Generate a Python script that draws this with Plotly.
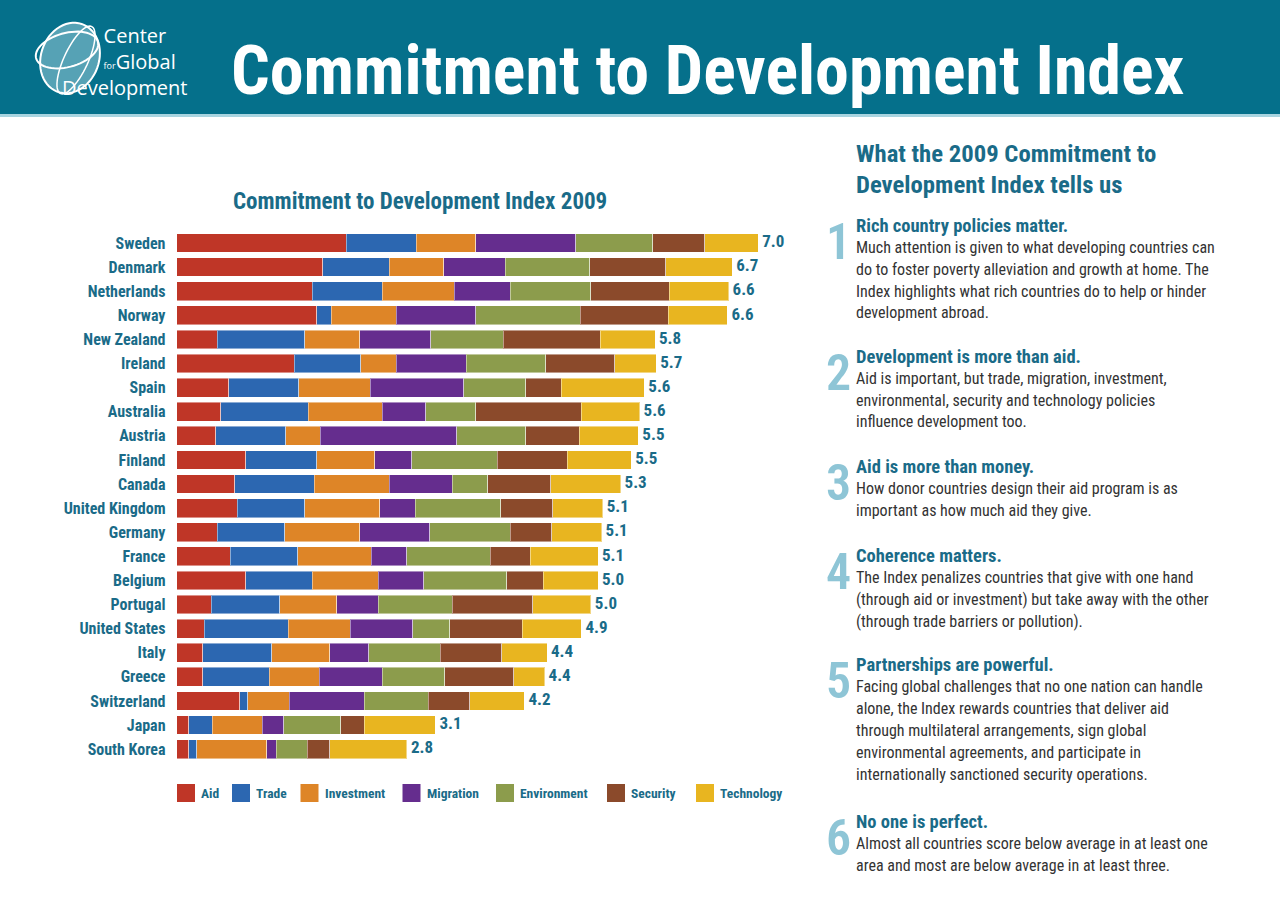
import numpy as np
import plotly.graph_objects as go

countries = ["Sweden", "Denmark", "Netherlands", "Norway", "New Zealand", "Ireland", "Spain",
             "Australia", "Austria", "Finland", "Canada", "United Kingdom", "Germany", "France",
             "Belgium", "Portugal", "United States", "Italy", "Greece", "Switzerland", "Japan",
             "South Korea"]

aid         = [14.3, 12.3, 11.4, 11.8, 3.4, 9.9, 4.4, 3.7, 3.3, 5.8, 4.9, 5.1, 3.4, 4.5, 5.8, 2.9, 2.3, 2.2, 2.2, 5.3, 1.0, 1.0]
trade       = [5.9, 5.6, 5.9, 1.2, 7.4, 5.6, 5.9, 7.4, 5.9, 6.0, 6.7, 5.7, 5.7, 5.7, 5.6, 5.8, 7.1, 5.8, 5.6, 0.7, 2.0, 0.7]
investment  = [5.0, 4.6, 6.1, 5.5, 4.6, 3.0, 6.0, 6.2, 2.9, 4.9, 6.3, 6.3, 6.3, 6.2, 5.6, 4.8, 5.2, 4.9, 4.2, 3.5, 4.2, 5.9]
migration   = [8.4, 5.2, 4.7, 6.7, 6.0, 5.9, 7.9, 3.7, 11.5, 3.1, 5.3, 3.0, 5.9, 3.0, 3.8, 3.5, 5.3, 3.3, 5.3, 6.3, 1.8, 0.8]
environment = [6.5, 7.1, 6.8, 8.8, 6.1, 6.7, 5.2, 4.2, 5.8, 7.2, 3.0, 7.2, 6.8, 7.0, 7.0, 6.2, 3.1, 6.0, 5.3, 5.4, 4.8, 2.6]
security    = [4.4, 6.4, 6.6, 7.4, 8.2, 5.8, 3.0, 8.9, 4.5, 5.9, 5.3, 4.4, 3.5, 3.4, 3.1, 6.8, 6.1, 5.2, 5.8, 3.5, 2.0, 1.9]
technology  = [4.5, 5.6, 5.0, 5.0, 4.6, 3.5, 7.0, 4.9, 5.0, 5.4, 5.9, 4.2, 4.2, 5.7, 4.6, 4.9, 5.0, 3.8, 2.6, 4.6, 6.0, 6.5]
totals      = [7.0, 6.7, 6.6, 6.6, 5.8, 5.7, 5.6, 5.6, 5.5, 5.5, 5.3, 5.1, 5.1, 5.1, 5.0, 5.0, 4.9, 4.4, 4.4, 4.2, 3.1, 2.8]

components = ["Aid", "Trade", "Investment", "Migration", "Environment", "Security", "Technology"]
colors = ["#bf3627", "#2c67b1", "#de8527", "#652d8e", "#8c9c4c", "#8b4a2b", "#e8b520"]
series = [aid, trade, investment, migration, environment, security, technology]

FONT = "Roboto Condensed, Open Sans Condensed, sans-serif"
TEAL = "#1a6b88"
W, H = 1280, 902

def px(x):
    return x / W

def py(y):
    return 1 - y / H

fig = go.Figure()
for name, vals, col in zip(components, series, colors):
    fig.add_trace(go.Bar(y=countries, x=vals, orientation="h", name=name,
                         marker=dict(color=col, line=dict(width=1, color="rgba(255,255,255,0.45)")),
                         showlegend=False, hoverinfo="skip"))

sums = [sum(v) for v in zip(*series)]
fig.add_trace(go.Scatter(y=countries, x=sums, mode="text", text=[f" {t:.1f}" for t in totals],
                         textposition="middle right",
                         textfont=dict(family=FONT, size=17, color=TEAL, weight=700),
                         showlegend=False, hoverinfo="skip"))

x0_px, x1_px = 176.7, 800
unit_px = 11.87
fig.update_xaxes(domain=[px(x0_px), px(x1_px)], range=[0, (x1_px - x0_px) / unit_px], visible=False)
n = len(countries)
fig.update_yaxes(domain=[py(761.15), py(230.95)], range=[n - 0.5, -0.5], type="category",
                 tickfont=dict(family=FONT, size=16, color=TEAL, weight=700),
                 ticks="outside", ticklen=7, tickcolor="rgba(0,0,0,0)", showgrid=False,
                 zeroline=False, showline=False)

shapes = []
annotations = []

# header band
shapes.append(dict(type="rect", xref="paper", yref="paper", x0=0, x1=1, y0=py(114), y1=1,
                   fillcolor="#05708b", line=dict(width=0), layer="below"))
shapes.append(dict(type="rect", xref="paper", yref="paper", x0=0, x1=1, y0=py(117), y1=py(114),
                   fillcolor="#a8d4e0", line=dict(width=0), layer="below"))

# logo globe
def ellipse_path(cx, cy, rx, ry, rot_deg, npts=60):
    t = np.linspace(0, 2 * np.pi, npts)
    r = np.deg2rad(rot_deg)
    xs = cx + rx * np.cos(t) * np.cos(r) - ry * np.sin(t) * np.sin(r)
    ys = cy + rx * np.cos(t) * np.sin(r) + ry * np.sin(t) * np.cos(r)
    pts = [f"{px(a):.5f},{py(b):.5f}" for a, b in zip(xs, ys)]
    return "M" + " L".join(pts) + " Z"

shapes.append(dict(type="path", xref="paper", yref="paper", path=ellipse_path(70, 58, 29, 36, 20),
                   fillcolor="rgba(168,212,224,0.5)", line=dict(color="white", width=2)))
shapes.append(dict(type="path", xref="paper", yref="paper", path=ellipse_path(67, 50, 32, 17, -15),
                   fillcolor="rgba(0,0,0,0)", line=dict(color="white", width=2)))
shapes.append(dict(type="path", xref="paper", yref="paper", path=ellipse_path(76, 60, 12, 37, 25),
                   fillcolor="rgba(0,0,0,0)", line=dict(color="white", width=1.5)))

LOGO = "Open Sans, Lato, sans-serif"
nb = "&nbsp;"
logo_text = (nb * 8 + "Center<br>" + nb * 8 + "<span style='font-size:9px'>for</span>Global<br>"
             + "Development")
annotations.append(dict(text=logo_text, x=px(60), y=py(62), xref="paper", yref="paper",
                        xanchor="left", yanchor="middle", align="left", showarrow=False,
                        font=dict(family=LOGO, size=20, color="white")))

annotations.append(dict(text="Commitment to Development Index", x=px(229), y=py(71),
                        xref="paper", yref="paper", xanchor="left", yanchor="middle",
                        showarrow=False, font=dict(family=FONT, size=68, color="white", weight=700)))

# chart title
annotations.append(dict(text="Commitment to Development Index 2009", x=px(420), y=py(201),
                        xref="paper", yref="paper", xanchor="center", yanchor="middle",
                        showarrow=False, font=dict(family=FONT, size=23, color=TEAL, weight=700)))

# legend
leg_sq = [177, 232, 300.5, 402.5, 496, 607, 696]
for name, col, sx in zip(components, colors, leg_sq):
    shapes.append(dict(type="rect", xref="paper", yref="paper", x0=px(sx), x1=px(sx + 18),
                       y0=py(802), y1=py(784), fillcolor=col, line=dict(width=0)))
    annotations.append(dict(text=name, x=px(sx + 22), y=py(793), xref="paper", yref="paper",
                            xanchor="left", yanchor="middle", showarrow=False,
                            font=dict(family=FONT, size=13.5, color=TEAL, weight=700)))

# right panel
annotations.append(dict(text="What the 2009 Commitment to", x=px(854), y=py(153), xref="paper",
                        yref="paper", xanchor="left", yanchor="middle", showarrow=False,
                        font=dict(family=FONT, size=24.7, color=TEAL, weight=700)))
annotations.append(dict(text="Development Index tells us", x=px(854), y=py(185), xref="paper",
                        yref="paper", xanchor="left", yanchor="middle", showarrow=False,
                        font=dict(family=FONT, size=24.7, color=TEAL, weight=700)))

items = [
    ("1", "Rich country policies matter.",
     ["Much attention is given to what developing countries can",
      "do to foster poverty alleviation and growth at home. The",
      "Index highlights what rich countries do to help or hinder",
      "development abroad."]),
    ("2", "Development is more than aid.",
     ["Aid is important, but trade, migration, investment,",
      "environmental, security and technology policies",
      "influence development too."]),
    ("3", "Aid is more than money.",
     ["How donor countries design their aid program is as",
      "important as how much aid they give."]),
    ("4", "Coherence matters.",
     ["The Index penalizes countries that give with one hand",
      "(through aid or investment) but take away with the other",
      "(through trade barriers or pollution)."]),
    ("5", "Partnerships are powerful.",
     ["Facing global challenges that no one nation can handle",
      "alone, the Index rewards countries that deliver aid",
      "through multilateral arrangements, sign global",
      "environmental agreements, and participate in",
      "internationally sanctioned security operations."]),
    ("6", "No one is perfect.",
     ["Almost all countries score below average in at least one",
      "area and most are below average in at least three."]),
]
head_y = [226, 357, 467, 556, 665, 822]
for (num, head, lines), hy in zip(items, head_y):
    annotations.append(dict(text=num, x=px(838), y=py(hy + 16), xref="paper", yref="paper",
                            xanchor="center", yanchor="middle", showarrow=False,
                            font=dict(family=FONT, size=50, color="#8ec5d6", weight=600)))
    annotations.append(dict(text=head, x=px(854), y=py(hy), xref="paper", yref="paper",
                            xanchor="left", yanchor="middle", showarrow=False,
                            font=dict(family=FONT, size=18.5, color=TEAL, weight=700)))
    for i, ln in enumerate(lines):
        annotations.append(dict(text=ln, x=px(854), y=py(hy + 21 + 22 * i), xref="paper",
                                yref="paper", xanchor="left", yanchor="middle", showarrow=False,
                                font=dict(family=FONT, size=16, color="#333333")))

fig.update_layout(width=W, height=H, margin=dict(l=0, r=0, t=0, b=0),
                  paper_bgcolor="white", plot_bgcolor="white",
                  barmode="stack", bargap=0.22, shapes=shapes, annotations=annotations)

fig.write_html("out.html")
